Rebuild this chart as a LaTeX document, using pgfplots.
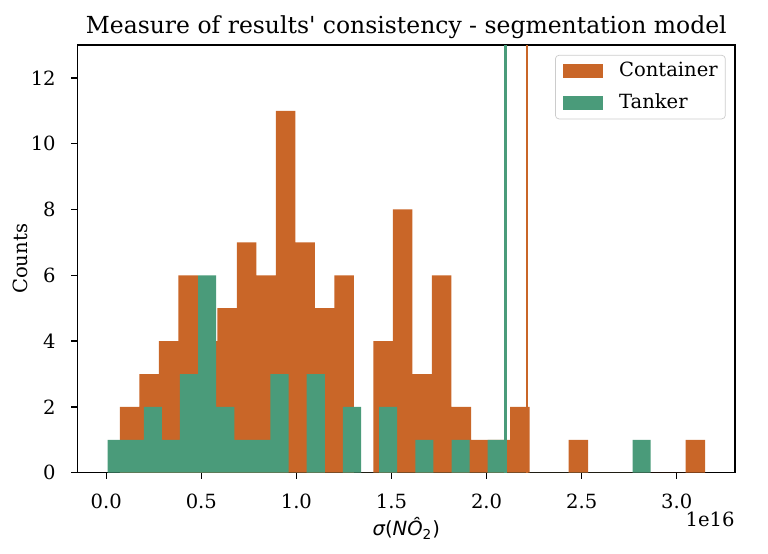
\documentclass[border=0pt]{standalone}
\usepackage{fontspec}
\setmainfont{DejaVu Serif}
\newfontfamily\titlefont{DejaVu Serif}
\newfontfamily\dvs{DejaVu Sans}
\usepackage{pgfplots}
\pgfplotsset{compat=1.18}
\definecolor{cont}{RGB}{201,102,40}
\definecolor{tank}{RGB}{74,155,122}
\begin{document}
\begin{tikzpicture}
\begin{axis}[
  at={(0,0)}, anchor=south west,
  scale only axis,
  width=369.7pt, height=240.6pt,
  xmin=-0.150, xmax=3.306,
  ymin=0, ymax=13,
  xtick={0,0.5,1,1.5,2,2.5,3},
  xticklabels={0.0,0.5,1.0,1.5,2.0,2.5,3.0},
  ytick={0,2,4,6,8,10,12},
  xtick pos=bottom, ytick pos=left,
  tick align=outside,
  major tick length=3.5pt,
  tick style={line width=0.8pt, black},
  axis line style={line width=0.8pt},
  /pgf/number format/assume math mode=true,
  ticklabel style={font=\fontsize{11}{13}\selectfont},
  xticklabel style={anchor=base, yshift=-16.5pt},
  yticklabel style={anchor=east, inner xsep=0pt, xshift=-8.7pt},
  every axis title shift=0pt,
  title={\titlefont Measure of results' consistency - segmentation model},
  title style={font=\fontsize{13.2}{15}\selectfont, at={(axis description cs:0.5,1)}, anchor=base, yshift=6.2pt},
  ylabel={Counts},
  ylabel style={font=\fontsize{11}{13}\selectfont, at={([xshift=-28pt]axis description cs:0,0.5)}, anchor=base},
  xlabel={{\dvs\itshape σ}{\dvs (}{\dvs\itshape NÔ}{\dvs\textsubscript{2})}},
  xlabel style={font=\fontsize{11}{13}\selectfont, at={([yshift=-35.5pt]axis description cs:0.5,0)}, anchor=base},
  legend style={at={(1,1)}, anchor=north east, xshift=-5.2pt, yshift=-5.6pt,
    draw=black!20, rounded corners=2pt, fill=white,
    font=\fontsize{11}{13}\selectfont,
    inner xsep=4.3pt, inner ysep=3.8pt,
    row sep=7.2pt,
    nodes={inner xsep=0pt, inner ysep=0pt, text height=8.2pt, text depth=2.3pt}},
  legend cell align=left,
  legend image code/.code={\fill[#1, sharp corners] (0pt,-3.95pt) rectangle (22.5pt,3.95pt); \path (31.5pt,0pt);},
]
\addplot[ybar interval, fill=cont, draw=none] coordinates {
(0.0714,2) (0.1740,3) (0.2766,4) (0.3792,6) (0.4818,4) (0.5844,5)
(0.6870,7) (0.7896,6) (0.8922,11) (0.9948,7) (1.0974,5) (1.2000,6)
(1.3026,0) (1.4052,4) (1.5078,8) (1.6104,3) (1.7130,6) (1.8156,2)
(1.9182,1) (2.0208,1) (2.1234,2) (2.2260,0) (2.3286,0) (2.4312,1)
(2.5338,0) (2.6364,0) (2.7390,0) (2.8416,0) (2.9442,0) (3.0468,1)
(3.1494,0)};
\addlegendentry{Container}
\addplot[ybar interval, fill=tank, draw=none] coordinates {
(0.0070,1) (0.1022,1) (0.1974,2) (0.2926,1) (0.3878,3) (0.4830,6)
(0.5782,2) (0.6734,1) (0.7686,1) (0.8638,3) (0.9590,0) (1.0542,3)
(1.1494,0) (1.2446,2) (1.3398,0) (1.4350,2) (1.5302,0) (1.6254,1)
(1.7206,0) (1.8158,1) (1.9110,0) (2.0062,1) (2.1014,0) (2.1966,0)
(2.2918,0) (2.3870,0) (2.4822,0) (2.5774,0) (2.6726,0) (2.7678,1)
(2.8630,0)};
\addlegendentry{Tanker}
\addplot[forget plot, tank, line width=1.5pt] coordinates {(2.100,0) (2.100,13)};
\addplot[forget plot, cont, line width=1.3pt] coordinates {(2.213,0) (2.213,13)};
\end{axis}
\node[anchor=base east, font=\fontsize{11}{13}\selectfont, inner xsep=0pt] at (369.7pt,-30.5pt) {1e16};
\pgfresetboundingbox
\useasboundingbox (-43.7pt,-45.2pt) rectangle (388.3pt,265.9pt);
\end{tikzpicture}
\end{document}
